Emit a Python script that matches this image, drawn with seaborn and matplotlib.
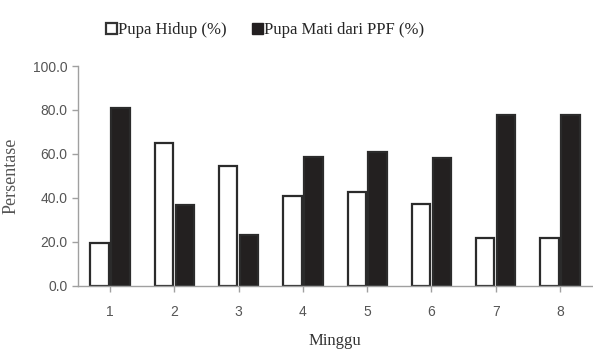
import pandas as pd
import matplotlib.pyplot as plt
import seaborn as sns

minggu = ["1", "2", "3", "4", "5", "6", "7", "8"]
pupa_hidup = [19.5, 65.0, 54.5, 41.0, 42.8, 37.2, 21.7, 22.0]
pupa_mati = [80.8, 36.8, 23.2, 58.5, 61.0, 58.2, 77.7, 77.7]
seri = ["Pupa Hidup (%)", "Pupa Mati dari PPF (%)"]
y_ticks = [0, 20, 40, 60, 80, 100]

df = pd.DataFrame({
    "Minggu": minggu * 2,
    "Persentase": pupa_hidup + pupa_mati,
    "Seri": [seri[0]] * len(minggu) + [seri[1]] * len(minggu),
})

sns.set_theme(style="white")
plt.rcParams["font.family"] = ["Liberation Sans", "DejaVu Sans"]

fig = plt.figure(figsize=(5.93, 3.53), dpi=100)
ax = fig.add_axes([0.1315, 0.19, 0.867, 0.623])

sns.barplot(data=df, x="Minggu", y="Persentase", hue="Seri",
            palette={seri[0]: "white", seri[1]: "#231f20"},
            width=0.65, gap=0.12, edgecolor="#2b2b2b", linewidth=1.6,
            legend=False, ax=ax)

ax.set_ylim(0, 100)
ax.set_xlim(-0.5, 7.5)
ax.set_yticks(y_ticks)
ax.set_yticklabels([f"{v:.1f}" for v in y_ticks])
for s in ["top", "right"]:
    ax.spines[s].set_visible(False)
for s in ["left", "bottom"]:
    ax.spines[s].set_color("#a0a0a0")
    ax.spines[s].set_linewidth(1.0)
ax.tick_params(axis="both", which="both", direction="out", length=4,
               width=1.0, color="#a0a0a0", labelsize=10, labelcolor="#555555",
               left=True, bottom=True)
ax.tick_params(axis="x", pad=10)

ax.set_xlabel("Minggu", family="Liberation Serif", fontsize=12, color="#333333", labelpad=10)
ax.set_ylabel("Persentase", family="Liberation Serif", fontsize=13, color="#555555", labelpad=10)

handles = [plt.Rectangle((0, 0), 1, 1, facecolor="white", edgecolor="#333333", linewidth=1.6),
           plt.Rectangle((0, 0), 1, 1, facecolor="#231f20", edgecolor="#231f20")]
fig.legend(handles, seri, loc="center", bbox_to_anchor=(0.447, 0.915), ncol=2,
           frameon=False, handlelength=0.65, handleheight=0.65, handletextpad=0.1,
           columnspacing=1.5, prop={"family": "Liberation Serif", "size": 12})

fig.savefig("out.png", dpi=100)
